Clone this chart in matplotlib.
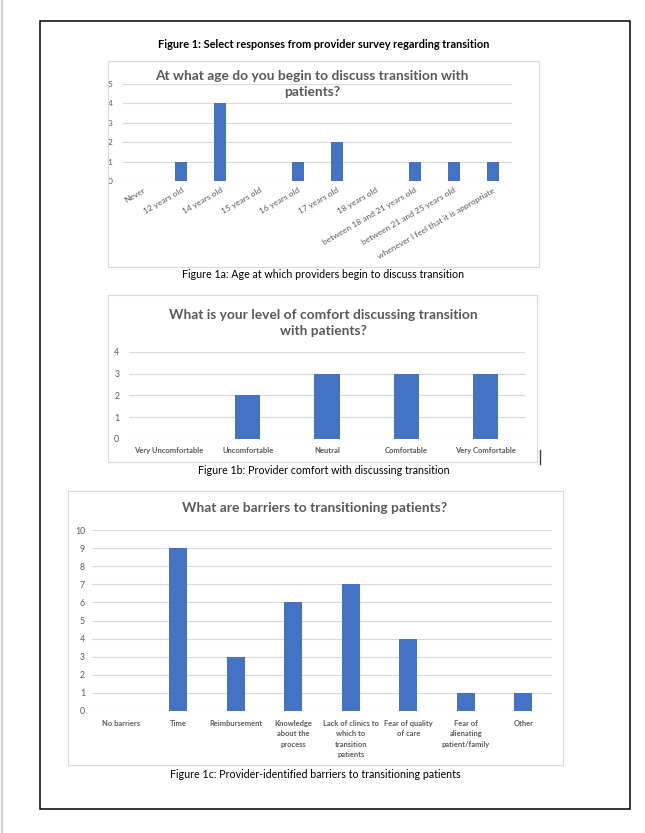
import matplotlib
matplotlib.use("Agg")
from matplotlib import pyplot as plt
from matplotlib.patches import Rectangle
from matplotlib.lines import Line2D

# --- data ---
age_labels = ["Never", "12 years old", "14 years old", "15 years old", "16 years old",
              "17 years old", "18 years old", "between 18 and 21 years old",
              "between 21 and 25 years old", "whenever I feel that it is appropriate"]
age_counts = [0, 1, 4, 0, 1, 2, 0, 1, 1, 1]

comfort_labels = ["Very Uncomfortable", "Uncomfortable", "Neutral", "Comfortable", "Very Comfortable"]
comfort_counts = [0, 2, 3, 3, 3]

barrier_labels = ["No barriers", "Time", "Reimbursement", "Knowledge\nabout the\nprocess",
                  "Lack of clinics to\nwhich to\ntransition\npatients", "Fear of quality\nof care",
                  "Fear of\nalienating\npatient/family", "Other"]
barrier_counts = [0, 9, 3, 6, 7, 4, 1, 1]

BAR = "#4472C4"
GRID = "#D9D9D9"
TXT = "#595959"
W, H = 645, 833

plt.rcParams['font.family'] = ['Lato', 'DejaVu Sans']

fig = plt.figure(figsize=(W / 100, H / 100), dpi=100)


def px_rect(x0, y0, x1, y1):
    # pixel box (top-left origin) -> figure fraction rect
    return [x0 / W, 1 - y1 / H, (x1 - x0) / W, (y1 - y0) / H]


def frame(x0, y0, x1, y1, color, lw):
    r = px_rect(x0, y0, x1, y1)
    fig.add_artist(Rectangle((r[0], r[1]), r[2], r[3], transform=fig.transFigure,
                             fill=False, edgecolor=color, linewidth=lw))


def ftext(x, y, s, **kw):
    fig.text(x / W, 1 - y / H, s, ha='center', va='center', **kw)


def bar_chart(rect, labels, counts, ymax, width, ysize, ypad):
    ax = fig.add_axes(rect)
    ax.bar(range(len(labels)), counts, width=width, color=BAR, zorder=3)
    ax.set_xlim(-0.5, len(labels) - 0.5)
    ax.set_ylim(0, ymax)
    ax.set_yticks(range(ymax + 1))
    ax.grid(axis='y', color=GRID, linewidth=0.8, zorder=0)
    for s in ax.spines.values():
        s.set_visible(False)
    ax.tick_params(length=0, colors=TXT, labelsize=ysize)
    ax.tick_params(axis='y', pad=ypad)
    ax.set_xticks(range(len(labels)))
    return ax


# outer page border and left edge mark
frame(40, 21, 630, 809, 'black', 1.1)
fig.add_artist(Line2D([1.5 / W, 1.5 / W], [0, 1], transform=fig.transFigure, color='#D0D0D0', lw=1.5))

ftext(324, 44, "Figure 1: Select responses from provider survey regarding transition",
      fontsize=7.9, fontweight='bold', color='black')

# chart 1a
frame(108, 61, 539, 267, GRID, 0.8)
ax1 = bar_chart(px_rect(123, 84, 512, 181), age_labels, age_counts, 5, 0.31, 6, 7.5)
ax1.set_xticklabels(age_labels, rotation=30, ha='right', rotation_mode='anchor', fontsize=6)
ax1.tick_params(axis='x', pad=4)
ftext(312, 84, "At what age do you begin to discuss transition with\npatients?",
      fontsize=9.9, fontweight='bold', color=TXT, linespacing=1.33)
ftext(323, 275, "Figure 1a: Age at which providers begin to discuss transition",
      fontsize=7.7, color='black')

# chart 1b
frame(108, 295, 537, 462, GRID, 0.8)
ax2 = bar_chart(px_rect(129, 352, 525, 439), comfort_labels, comfort_counts, 4, 0.32, 6.3, 7)
ax2.set_xticklabels(comfort_labels, fontsize=5.5, fontweight='bold')
ax2.tick_params(axis='x', pad=5.5)
ftext(323, 323, "What is your level of comfort discussing transition\nwith patients?",
      fontsize=9.9, fontweight='bold', color=TXT, linespacing=1.33)
fig.add_artist(Line2D([539.5 / W, 539.5 / W], [1 - 450 / H, 1 - 464 / H],
                      transform=fig.transFigure, color='#404040', lw=1))
ftext(324, 470, "Figure 1b: Provider comfort with discussing transition",
      fontsize=7.7, color='black')

# chart 1c
frame(68, 491, 563, 765, GRID, 0.8)
ax3 = bar_chart(px_rect(92, 530, 552, 711), barrier_labels, barrier_counts, 10, 0.32, 6.3, 5)
ax3.set_xticklabels(barrier_labels, fontsize=5.4, fontweight='bold', va='top', linespacing=1.55)
ax3.tick_params(axis='x', pad=6.5)
ftext(315, 508, "What are barriers to transitioning patients?",
      fontsize=9.9, fontweight='bold', color=TXT)
ftext(315, 774, "Figure 1c: Provider-identified barriers to transitioning patients",
      fontsize=7.7, color='black')

fig.savefig("out.png", dpi=100)
